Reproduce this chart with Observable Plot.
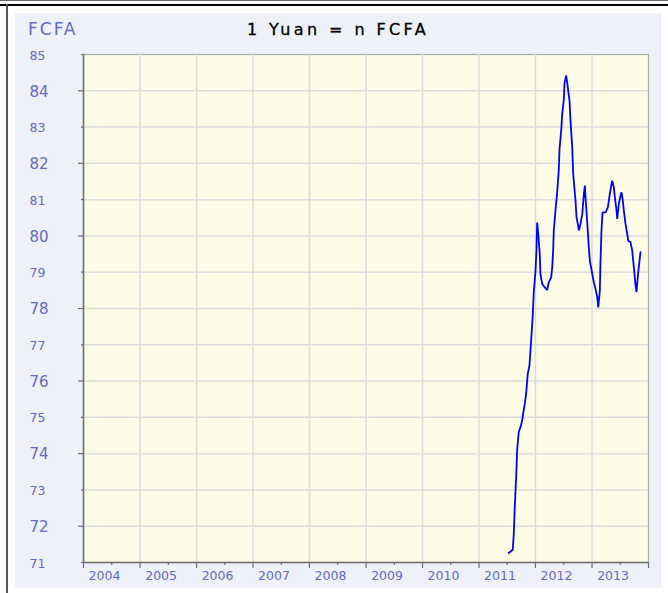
<!DOCTYPE html>
<html>
<head>
<meta charset="utf-8">
<script src="https://cdn.jsdelivr.net/npm/d3@7"></script>
<script src="https://cdn.jsdelivr.net/npm/@observablehq/plot@0.6"></script>
<style>
  html, body { margin: 0; padding: 0; background: #fff; }
  #wrap { position: relative; width: 668px; height: 593px; overflow: hidden; font-family: "DejaVu Sans", Verdana, sans-serif; }
  .abs { position: absolute; }
  #chart { position: absolute; left: 0; top: 0; }
</style>
</head>
<body>
<div id="wrap">
  <div class="abs" style="left:0;top:0;width:668px;height:1px;background:#666"></div>
  <div class="abs" style="left:0;top:4px;width:668px;height:2px;background:#000"></div>
  <div class="abs" style="left:6px;top:4px;width:2px;height:589px;background:#555"></div>
  <div class="abs" style="left:15px;top:13px;width:646px;height:575px;background:#eef1fa"></div>
  <div class="abs" id="unit" style="left:28px;top:19px;font-size:17px;color:#6666cc;letter-spacing:2px;">FCFA</div>
  <div class="abs" id="title" style="left:0;width:676px;top:20px;text-align:center;font-size:16px;color:#000;letter-spacing:3.4px;-webkit-text-stroke:0.3px #000;">1 Yuan = n FCFA</div>
  <div id="chart"></div>
</div>
<script>
// Data (decimal year, FCFA per yuan)
const years = [
  2011.527, 2011.598, 2011.616, 2011.634, 2011.658, 2011.676, 2011.704, 2011.735,
  2011.765, 2011.782, 2011.811, 2011.835, 2011.864, 2011.894, 2011.924, 2011.952,
  2011.970, 2012.000, 2012.018, 2012.030, 2012.048, 2012.076, 2012.088, 2012.119,
  2012.165, 2012.207, 2012.235, 2012.278, 2012.296, 2012.313, 2012.324, 2012.354,
  2012.384, 2012.412, 2012.425, 2012.455, 2012.473, 2012.501, 2012.513, 2012.543,
  2012.561, 2012.579, 2012.602, 2012.619, 2012.650, 2012.667, 2012.708, 2012.726,
  2012.749, 2012.767, 2012.796, 2012.827, 2012.855, 2012.873, 2012.885, 2012.915,
  2012.943, 2012.961, 2013.004, 2013.032, 2013.062, 2013.092, 2013.110, 2013.138,
  2013.150, 2013.168, 2013.186, 2013.239, 2013.280, 2013.310, 2013.340, 2013.357,
  2013.386, 2013.404, 2013.434, 2013.446, 2013.474, 2013.504, 2013.522, 2013.545,
  2013.563, 2013.593, 2013.623, 2013.641, 2013.681, 2013.711, 2013.729, 2013.752,
  2013.770, 2013.788, 2013.800, 2013.818, 2013.841, 2013.858
];
const rates = [
  71.26, 71.35, 71.77, 72.54, 73.33, 74.10, 74.59, 74.73,
  74.91, 75.10, 75.37, 75.65, 76.20, 76.43, 77.12, 77.80,
  78.45, 79.00, 79.60, 80.37, 80.08, 79.52, 78.95, 78.68,
  78.58, 78.51, 78.72, 78.86, 79.13, 79.60, 80.15, 80.70,
  81.20, 81.80, 82.39, 82.90, 83.36, 83.75, 84.19, 84.42,
  84.23, 84.00, 83.73, 83.18, 82.44, 81.71, 80.97, 80.51,
  80.33, 80.15, 80.33, 80.60, 81.15, 81.39, 81.06, 80.37,
  79.69, 79.32, 78.95, 78.72, 78.54, 78.31, 78.03, 78.49,
  79.32, 80.19, 80.65, 80.65, 80.79, 81.11, 81.39, 81.52,
  81.34, 81.06, 80.70, 80.47, 80.88, 81.11, 81.20, 80.97,
  80.70, 80.33, 80.06, 79.87, 79.83, 79.60, 79.32, 78.95,
  78.63, 78.45, 78.68, 79.00, 79.32, 79.55
];
const yTicks = [71, 72, 73, 74, 75, 76, 77, 78, 79, 80, 81, 82, 83, 84, 85];
const yearLabels = [2004, 2005, 2006, 2007, 2008, 2009, 2010, 2011, 2012, 2013];
const yearBounds = [2004, 2014];

function decToDate(y) {
  const yr = Math.floor(y);
  const a = Date.UTC(yr, 0, 1), b = Date.UTC(yr + 1, 0, 1);
  return new Date(a + (y - yr) * (b - a));
}

const series = years.map((y, i) => ({date: decToDate(y), value: rates[i]}));
const yearStarts = d3.range(yearBounds[0], yearBounds[1] + 1).map(y => decToDate(y));
const innerYears = yearStarts.slice(1, -1);
const midYears = yearLabels.map(y => decToDate(y + 0.5));
const labelDates = yearLabels.map(y => ({date: decToDate(y), label: String(y)}));
const innerY = yTicks.slice(1, -1);

const labelColor = "#6666cc";
const axisColor = "#6e6e6e";
const font = "DejaVu Sans, Verdana, sans-serif";
const blank = () => "";

const chart = Plot.plot({
  width: 668,
  height: 593,
  marginLeft: 83,
  marginRight: 20,
  marginTop: 54,
  marginBottom: 31,
  style: {background: "transparent", fontFamily: font},
  x: {type: "utc", domain: [decToDate(yearBounds[0]), decToDate(yearBounds[1])], axis: null},
  y: {domain: [yTicks[0], yTicks[yTicks.length - 1]], axis: null},
  marks: [
    Plot.frame({fill: "#fdfce6", stroke: "#a8a8a8", strokeWidth: 1.2}),
    Plot.gridX({ticks: innerYears, stroke: "#dcdcdc", strokeOpacity: 1, strokeWidth: 1.5}),
    Plot.gridY({ticks: innerY, stroke: "#dcdcdc", strokeOpacity: 1, strokeWidth: 1.5}),
    // axis lines
    Plot.ruleX([decToDate(yearBounds[0])], {stroke: axisColor, strokeWidth: 1.5}),
    Plot.ruleY([yTicks[0]], {stroke: axisColor, strokeWidth: 1.5}),
    // y ticks (even longer, odd short)
    Plot.axisY({ticks: yTicks.filter(v => v % 2 === 0), tickSize: 5, tickFormat: blank, label: null, stroke: axisColor, strokeWidth: 1.2}),
    Plot.axisY({ticks: yTicks.filter(v => v % 2 === 1), tickSize: 2, tickFormat: blank, label: null, stroke: axisColor, strokeWidth: 1.2}),
    // x ticks (years long, mid-year short)
    Plot.axisX({ticks: yearStarts, tickSize: 6, tickFormat: blank, label: null, stroke: axisColor, strokeWidth: 1.2}),
    Plot.axisX({ticks: midYears, tickSize: 3, tickFormat: blank, label: null, stroke: axisColor, strokeWidth: 1.2}),
    Plot.line(series, {x: "date", y: "value", stroke: "#0000ff", strokeWidth: 1.8, strokeLinejoin: "miter"}),
    // y labels
    Plot.text(yTicks, {
      y: d => d, frameAnchor: "left", textAnchor: "start", dx: -54, dy: 1,
      text: d => String(d), fill: labelColor,
      fontSize: d => (d % 2 === 0 ? 15 : 12.5)
    }),
    // x labels
    Plot.text(labelDates, {
      x: "date", frameAnchor: "bottom", dy: 17, dx: 21, textAnchor: "middle",
      text: "label", fill: labelColor, fontSize: 12.5
    })
  ]
});

document.getElementById("chart").appendChild(chart);
</script>
</body>
</html>
